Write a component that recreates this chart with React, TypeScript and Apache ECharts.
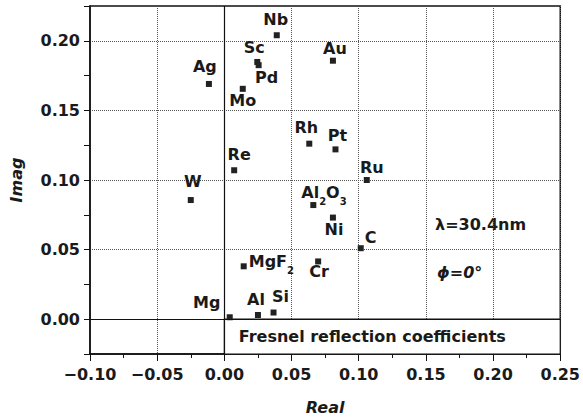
import React, { useEffect, useRef } from 'react';
import * as echarts from 'echarts';

// ---- data ----
const materials = ['Nb', 'Sc', 'Pd', 'Ag', 'Mo', 'Re', 'W', 'MgF2', 'Mg', 'Al', 'Si', 'Au', 'Rh', 'Pt', 'Ru', 'Al2O3', 'Ni', 'C', 'Cr'];
const realParts = [0.039, 0.0245, 0.0255, -0.0115, 0.0137, 0.0073, -0.025, 0.0144, 0.004, 0.025, 0.0366, 0.0808, 0.0632, 0.0827, 0.106, 0.0662, 0.0808, 0.1015, 0.0698];
const imagParts = [0.204, 0.1848, 0.1825, 0.169, 0.1655, 0.107, 0.0856, 0.038, 0.0014, 0.003, 0.0048, 0.1857, 0.1261, 0.122, 0.1, 0.082, 0.073, 0.051, 0.0415];
const xTickLabels = [-0.1, -0.05, 0, 0.05, 0.1, 0.15, 0.2, 0.25];
const yTickLabels = [0, 0.05, 0.1, 0.15, 0.2];

// ---- label layout (pixel offsets of label centre from marker) ----
const labelOffsets: Record<string, [number, number]> = {
  Nb: [-1, -16], Sc: [-3, -14], Pd: [8, 12], Ag: [-4, -17], Mo: [0, 12], Re: [5, -16],
  W: [2, -19], Mg: [-23, -15], Al: [-2, -16], Si: [7, -16], Au: [2, -12], Rh: [-3, -16],
  Pt: [2, -14], Ru: [5, -13], Ni: [1, 12], C: [10, -11], Cr: [1, 10],
  MgF2: [5, -5], Al2O3: [-12, -13],
};
const richLabels: Record<string, string> = {
  MgF2: '{a|MgF}{s|2}',
  Al2O3: '{a|Al}{s|2}{a|O}{s|3}',
};

const FONT = 'DejaVu Sans';
const TEXT = '#1a1a1a';

export default function App() {
  const ref = useRef<HTMLDivElement>(null);
  useEffect(() => {
    document.body.style.margin = '0';
    if (!ref.current) return;
    const chart = echarts.init(ref.current, null, { renderer: 'svg' });
    const fmt = (v: number) => (v < 0 ? '\u2212' : '') + Math.abs(v).toFixed(2);
    const isLabelled = (v: number, list: number[]) => list.some((t) => Math.abs(t - v) < 1e-6);

    const data = materials.map((m, i) => {
      const off = labelOffsets[m] || [0, -14];
      const rich = richLabels[m];
      return {
        name: m,
        value: [realParts[i], imagParts[i]],
        label: {
          show: true,
          position: 'inside',
          formatter: rich ? rich : m,
          offset: off,
          align: rich ? 'left' : 'center',
          verticalAlign: 'middle',
          color: TEXT,
          fontFamily: FONT,
          fontWeight: 'bold',
          fontSize: 16,
          rich: {
            a: { fontFamily: FONT, fontWeight: 'bold', fontSize: 16, color: TEXT, lineHeight: 20 },
            s: { fontFamily: FONT, fontWeight: 'bold', fontSize: 10, color: TEXT, lineHeight: 28, verticalAlign: 'bottom' },
          },
        },
      };
    });

    chart.setOption({
      animation: false,
      backgroundColor: '#fff',
      grid: { left: 87, right: 20, top: 6, bottom: 64, show: true, borderColor: '#111', borderWidth: 1.5, backgroundColor: 'transparent' },
      xAxis: {
        type: 'value',
        min: -0.1,
        max: 0.25,
        interval: 0.05,
        axisLine: { show: true, onZero: false, lineStyle: { color: '#111', width: 1.5 } },
        axisTick: { show: true, length: 7, lineStyle: { color: '#111' } },
        minorTick: { show: true, splitNumber: 2, length: 4, lineStyle: { color: '#111' } },
        axisLabel: {
          formatter: (v: number) => (isLabelled(v, xTickLabels) ? fmt(v) : ''),
          margin: 12, color: TEXT, fontFamily: FONT, fontWeight: 'bold', fontSize: 16,
        },
        splitLine: { show: true, lineStyle: { color: '#555', type: 'dotted', width: 1 } },
        name: 'Real',
        nameLocation: 'middle',
        nameGap: 45,
        nameTextStyle: { color: TEXT, fontFamily: FONT, fontWeight: 'bold', fontStyle: 'italic', fontSize: 16 },
      },
      yAxis: {
        type: 'value',
        min: -0.025,
        max: 0.225,
        interval: 0.025,
        axisLine: { show: true, onZero: false, lineStyle: { color: '#111', width: 1.5 } },
        axisTick: { show: true, length: 6, lineStyle: { color: '#111' } },
        axisLabel: {
          formatter: (v: number) => (isLabelled(v, yTickLabels) ? fmt(v) : ''),
          margin: 10, color: TEXT, fontFamily: FONT, fontWeight: 'bold', fontSize: 16,
        },
        splitLine: { show: true, lineStyle: { color: ['transparent', '#555'], type: 'dotted', width: 1 } },
        name: 'Imag',
        nameLocation: 'middle',
        nameGap: 66,
        nameTextStyle: { color: TEXT, fontFamily: FONT, fontWeight: 'bold', fontStyle: 'italic', fontSize: 16 },
      },
      series: [
        {
          type: 'scatter',
          symbol: 'rect',
          symbolSize: 6,
          itemStyle: { color: '#222', opacity: 1 },
          data,
          markArea: {
            silent: true,
            itemStyle: { color: '#fff', borderColor: '#111', borderWidth: 1.2, opacity: 1 },
            label: {
              show: true,
              position: 'insideLeft',
              distance: 15,
              formatter: 'Fresnel reflection coefficients',
              color: TEXT, fontFamily: FONT, fontWeight: 'bold', fontSize: 16,
            },
            data: [[{ xAxis: 0, yAxis: -0.025 }, { xAxis: 0.25, yAxis: 0 }]],
          },
          markLine: {
            silent: true,
            symbol: 'none',
            label: { show: false },
            lineStyle: { color: '#111', type: 'solid', width: 1.2, opacity: 1 },
            data: [{ xAxis: 0 }, { yAxis: 0 }],
          },
        },
      ],
      graphic: [
        {
          type: 'text', left: 435, top: 216,
          style: { text: '\u03bb=30.4nm', fill: TEXT, font: `bold 16px "${FONT}"` },
        },
        {
          type: 'text', left: 437, top: 264,
          style: { text: '\u03d5=0\u00b0', fill: TEXT, font: `italic bold 16px "${FONT}"` },
        },
      ],
    });
    return () => chart.dispose();
  }, []);
  return <div ref={ref} style={{ width: 583, height: 420 }} />;
}
